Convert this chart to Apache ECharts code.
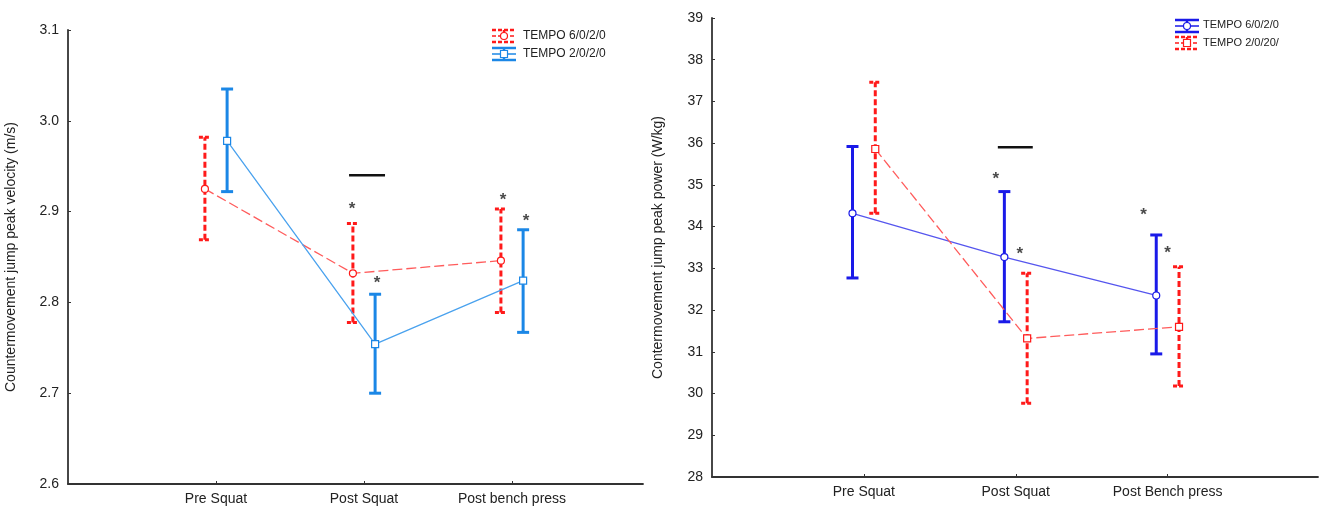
<!DOCTYPE html>
<html>
<head>
<meta charset="utf-8">
<script src="https://cdn.jsdelivr.net/npm/echarts@6/dist/echarts.min.js"></script>
<style>
html,body{margin:0;padding:0;background:#fff;}
#chart{width:1321px;height:506px;}
</style>
</head>
<body>
<div id="chart"></div>
<script>
// ---- data ----
const velocityCategories = ['Pre Squat', 'Post Squat', 'Post bench press'];
const powerCategories = ['Pre Squat', 'Post Squat', 'Post Bench press'];

const velocityTicks = [2.6, 2.7, 2.8, 2.9, 3.0, 3.1];
const powerTicks = [28, 29, 30, 31, 32, 33, 34, 35, 36, 37, 38, 39];

const velocity6020Mean = [2.925, 2.832, 2.846];
const velocity6020Low  = [2.869, 2.778, 2.789];
const velocity6020High = [2.982, 2.887, 2.903];

const velocity2020Mean = [2.978, 2.754, 2.824];
const velocity2020Low  = [2.922, 2.700, 2.767];
const velocity2020High = [3.035, 2.809, 2.880];

const power6020Mean = [34.32, 33.27, 32.35];
const power6020Low  = [32.77, 31.72, 30.95];
const power6020High = [35.92, 34.84, 33.80];

const power2020Mean = [35.86, 31.32, 31.60];
const power2020Low  = [34.32, 29.77, 30.18];
const power2020High = [37.46, 32.88, 33.04];

// significance markers: [x (category units), y]
const velocityStars = [[1.919, 2.907], [2.088, 2.825], [2.939, 2.917], [3.095, 2.894]];
const velocityBracket = [[1.899, 2.94], [2.142, 2.94]];
const powerStars = [[1.868, 35.24], [2.026, 33.44], [2.842, 34.36], [3.0, 33.46]];
const powerBracket = [[1.882, 35.90], [2.112, 35.90]];

const legendLeft = ['TEMPO 6/0/2/0', 'TEMPO 2/0/2/0'];
const legendRight = ['TEMPO 6/0/2/0', 'TEMPO 2/0/20/'];

// ---- styles ----
const RED = '#ff1a1a', RED_LINE = '#ff5c5c';
const LBLUE = '#1b87e6', LBLUE_LINE = '#4aa2ee';
const DBLUE = '#1a1ae8', DBLUE_LINE = '#5656ee';
const OFF = 0.075;
const FONT = 'Liberation Sans, Arial, sans-serif';

function errData(low, high, off) {
  return low.map((l, i) => [i + 1 + off, l, high[i]]);
}
function meanData(mean, off) {
  return mean.map((m, i) => [i + 1 + off, m]);
}
function errSeries(idx, low, high, off, color, dashed) {
  return {
    type: 'custom', xAxisIndex: idx, yAxisIndex: idx, z: 3,
    data: errData(low, high, off),
    renderItem: function (params, api) {
      const lo = api.coord([api.value(0), api.value(1)]);
      const hi = api.coord([api.value(0), api.value(2)]);
      const hw = 6;
      const style = { stroke: color, lineWidth: 3, lineDash: dashed ? [6, 3] : null, fill: null };
      return {
        type: 'group',
        children: [
          { type: 'line', shape: { x1: lo[0], y1: lo[1], x2: hi[0], y2: hi[1] }, style: style },
          { type: 'line', shape: { x1: lo[0] - hw, y1: lo[1], x2: lo[0] + hw, y2: lo[1] }, style: Object.assign({}, style, { lineDash: dashed ? [4, 2] : null }) },
          { type: 'line', shape: { x1: hi[0] - hw, y1: hi[1], x2: hi[0] + hw, y2: hi[1] }, style: Object.assign({}, style, { lineDash: dashed ? [4, 2] : null }) }
        ]
      };
    }
  };
}
function meanSeries(idx, mean, off, color, barColor, dashed, symbol) {
  return {
    type: 'line', xAxisIndex: idx, yAxisIndex: idx, z: 4,
    data: meanData(mean, off),
    symbol: symbol, symbolSize: 7,
    itemStyle: { color: '#fff', borderColor: barColor, borderWidth: 1.2 },
    lineStyle: { color: color, width: 1.3, type: dashed ? [10, 4] : 'solid' },
    animation: false
  };
}
function starSeries(idx, pts) {
  return {
    type: 'scatter', xAxisIndex: idx, yAxisIndex: idx, z: 5,
    data: pts, symbolSize: 1, itemStyle: { color: 'rgba(0,0,0,0)' },
    label: { show: true, formatter: '*', position: 'inside', color: '#1a1a1a', fontSize: 17, fontWeight: 'bold', fontFamily: FONT, offset: [0, 4] }
  };
}
function bracketSeries(idx, pts) {
  return {
    type: 'line', xAxisIndex: idx, yAxisIndex: idx, z: 5,
    data: pts, symbol: 'none', lineStyle: { color: '#111', width: 2.5 }
  };
}
function xAxis(idx, max, cats) {
  return {
    type: 'value', gridIndex: idx, min: 0, max: max, interval: 1,
    splitLine: { show: false },
    axisLine: { lineStyle: { color: '#333', width: 1.8 } },
    axisTick: { inside: true, length: 3, customValues: [1, 2, 3], lineStyle: { color: '#333' } },
    axisLabel: {
      customValues: [1, 2, 3],
      formatter: v => cats[Math.round(v) - 1] || '',
      color: '#222', fontSize: 14, fontFamily: FONT, margin: 8
    }
  };
}
function yAxis(idx, min, max, interval, name, gap) {
  return {
    type: 'value', gridIndex: idx, min: min, max: max, interval: interval,
    name: name, nameLocation: 'middle', nameGap: gap,
    nameTextStyle: { color: '#222', fontSize: 14, fontFamily: FONT },
    splitLine: { show: false },
    axisLine: { show: true, lineStyle: { color: '#333', width: 1.8 } },
    axisTick: { show: true, inside: true, length: 3, lineStyle: { color: '#333' } },
    axisLabel: { color: '#222', fontSize: 14, fontFamily: FONT, margin: 9,
      formatter: v => (interval < 1 ? v.toFixed(1) : String(v)) }
  };
}
function legendIcon(x, y, color, dashed, symbol) {
  const st = { stroke: color, lineWidth: 2.5, lineDash: dashed ? [4, 2] : null };
  const w = 12, h = 6;
  const children = [
    { type: 'line', shape: { x1: x, y1: y - h, x2: x, y2: y + h }, style: st },
    { type: 'line', shape: { x1: x - w, y1: y - h, x2: x + w, y2: y - h }, style: st },
    { type: 'line', shape: { x1: x - w, y1: y + h, x2: x + w, y2: y + h }, style: st },
    { type: 'line', shape: { x1: x - w, y1: y, x2: x + w, y2: y }, style: Object.assign({}, st, { lineWidth: 1.5 }) }
  ];
  if (symbol === 'circle') {
    children.push({ type: 'circle', shape: { cx: x, cy: y, r: 3.5 }, style: { fill: '#fff', stroke: color, lineWidth: 1.2 } });
  } else {
    children.push({ type: 'rect', shape: { x: x - 3.5, y: y - 3.5, width: 7, height: 7 }, style: { fill: '#fff', stroke: color, lineWidth: 1.2 } });
  }
  return { type: 'group', children: children };
}
function legendText(x, y, t, size) {
  return { type: 'text', x: x, y: y, style: { text: t, fill: '#222', font: size + 'px ' + FONT, textVerticalAlign: 'middle', verticalAlign: 'middle' } };
}

const chart = echarts.init(document.getElementById('chart'), null, { renderer: 'canvas' });
chart.setOption({
  animation: false,
  backgroundColor: '#fff',
  grid: [
    { left: 68, top: 30, width: 575, height: 454 },
    { left: 712, top: 18, width: 606, height: 459 }
  ],
  xAxis: [xAxis(0, 3.885, velocityCategories), xAxis(1, 3.99, powerCategories)],
  yAxis: [
    yAxis(0, 2.6, 3.1, 0.1, 'Countermovement jump peak velocity (m/s)', 50),
    yAxis(1, 28, 39, 1, 'Contermovement jump peak power (W/kg)', 47)
  ],
  series: [
    meanSeries(0, velocity6020Mean, -OFF, RED_LINE, RED, true, 'circle'),
    meanSeries(0, velocity2020Mean, OFF, LBLUE_LINE, LBLUE, false, 'rect'),
    errSeries(0, velocity6020Low, velocity6020High, -OFF, RED, true),
    errSeries(0, velocity2020Low, velocity2020High, OFF, LBLUE, false),
    starSeries(0, velocityStars),
    bracketSeries(0, velocityBracket),

    meanSeries(1, power6020Mean, -OFF, DBLUE_LINE, DBLUE, false, 'circle'),
    meanSeries(1, power2020Mean, OFF, RED_LINE, RED, true, 'rect'),
    errSeries(1, power6020Low, power6020High, -OFF, DBLUE, false),
    errSeries(1, power2020Low, power2020High, OFF, RED, true),
    starSeries(1, powerStars),
    bracketSeries(1, powerBracket)
  ],
  graphic: [
    legendIcon(504, 36, RED, true, 'circle'),
    legendText(523, 36, legendLeft[0], 12),
    legendIcon(504, 54, LBLUE, false, 'rect'),
    legendText(523, 54, legendLeft[1], 12),
    legendIcon(1187, 26, DBLUE, false, 'circle'),
    legendText(1203, 25, legendRight[0], 11),
    legendIcon(1187, 43, RED, true, 'rect'),
    legendText(1203, 43, legendRight[1], 11)
  ]
});
</script>
</body>
</html>
